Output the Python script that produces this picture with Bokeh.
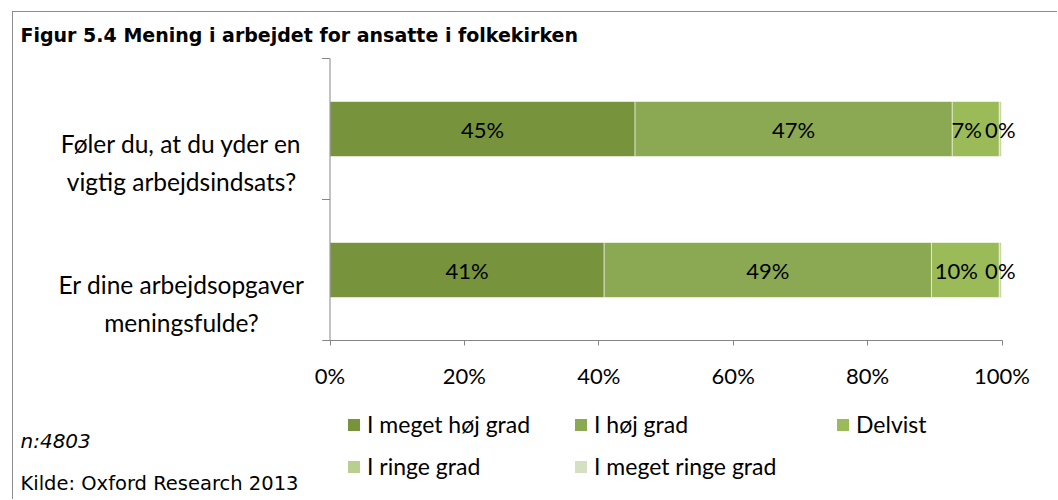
import math
from bokeh.plotting import figure
from bokeh.layouts import column
from bokeh.models import (Range1d, FixedTicker, PrintfTickFormatter, Label, Legend,
                          LegendItem, ColumnDataSource)
from bokeh.core.properties import value
from bokeh.embed import file_html
from bokeh.resources import INLINE

# ---------------- data ----------------
title = "Figur 5.4 Mening i arbejdet for ansatte i folkekirken"
questions = ["Føler du, at du yder en\nvigtig arbejdsindsats?",
             "Er dine arbejdsopgaver\nmeningsfulde?"]
categories = ["I meget høj grad", "I høj grad", "Delvist", "I ringe grad", "I meget ringe grad"]
very_high = [45.4, 40.8]
high = [47.2, 48.7]
partly = [7.0, 10.1]
low = [0.3, 0.3]
very_low = [0.1, 0.1]
x_ticks = [0, 20, 40, 60, 80, 100]
note_n = "n:4803"
source_note = "Kilde: Oxford Research 2013"

# ---------------- style / layout constants ----------------
colors = ["#77933C", "#8BA852", "#9BBB59", "#B9CF8F", "#D4E0C1"]
FONT = "Lato"
FONT2 = "DejaVu Sans"
AXIS_COLOR = "#868686"

series = [very_high, high, partly, low, very_low]
n = len(questions)
ys = [n - i - 0.5 for i in range(n)]

# main figure: canvas origin at page (13, 12)
WA, HA = 1044, 384
MB = 56                  # space below frame for x axis
AXIS_PX = 316.5          # canvas x of the 0% position
UNIT_PX = 6.72           # pixels per percent
ROW_PX = 141             # pixels per category row
frame_h = HA - MB

def dx(page_x):
    return (page_x - 13 - AXIS_PX) / UNIT_PX

def dy(page_y):
    return (frame_h - (page_y - 12)) / ROW_PX

data = {"y": ys}
for cat, vals in zip(categories, series):
    data[cat] = vals
source = ColumnDataSource(data)

p = figure(width=WA, height=HA, output_backend="svg", toolbar_location=None,
           x_range=Range1d(-AXIS_PX / UNIT_PX, (WA - AXIS_PX) / UNIT_PX),
           y_range=Range1d(0, frame_h / ROW_PX),
           min_border_left=0, min_border_right=0, min_border_top=0, min_border_bottom=MB)
p.outline_line_color = None
p.xgrid.visible = False
p.ygrid.visible = False
p.yaxis.visible = False

p.hbar_stack(categories, y="y", height=0.39, color=colors, source=source,
             line_color="white", line_alpha=0.55, line_width=1)

# data labels (first four segments)
label_offsets = [0, 0, -9, 0]
left = [0.0] * n
for j, vals in enumerate(series):
    centers = [left[i] + vals[i] / 2 for i in range(n)]
    if j < 4:
        p.text(x=centers, y=ys, text=[f"{round(v)}%" for v in vals],
               text_align="center", text_baseline="middle",
               text_font=value(FONT), text_font_size="22px", text_color="black",
               x_offset=label_offsets[j])
    left = [left[i] + vals[i] for i in range(n)]

# x axis
xa = p.xaxis[0]
xa.bounds = (-8 / UNIT_PX, 100)
xa.ticker = FixedTicker(ticks=x_ticks)
xa.formatter = PrintfTickFormatter(format="%d%%")
xa.major_tick_out = 5
xa.major_tick_in = 0
xa.minor_tick_line_color = None
xa.axis_line_color = AXIS_COLOR
xa.major_tick_line_color = AXIS_COLOR
xa.major_label_text_font = FONT
xa.major_label_text_font_size = "22px"
xa.major_label_text_color = "black"
xa.major_label_standoff = 16

# category axis: line at 0% and ticks on the row boundaries
p.segment(x0=[0], y0=[0], x1=[0], y1=[n], line_color=AXIS_COLOR, line_width=1)
p.ray(x=[0] * (n + 1), y=list(range(n + 1)), length=8, length_units="screen",
      angle=math.pi, line_color=AXIS_COLOR, line_width=1)

label_shift = 33.5 / ROW_PX
for qtext, y in zip(questions, ys):
    p.add_layout(Label(x=dx(181), y=y - label_shift, text=qtext,
                       text_align="center", text_baseline="middle", text_line_height=1.3,
                       text_font=FONT, text_font_size="24.5px", text_color="black"))

p.add_layout(Label(x=dx(20), y=dy(34), text=title, text_align="left", text_baseline="middle",
                   text_font=FONT2, text_font_style="bold", text_font_size="19px",
                   text_color="black"))

# ---------------- legend + notes strip (canvas origin at page (13, 396)) ----------------
WB, HB = 1044, 103
q = figure(width=WB, height=HB, output_backend="svg", toolbar_location=None,
           x_range=Range1d(0, WB), y_range=Range1d(HB, 0),
           min_border_left=0, min_border_right=0, min_border_top=0, min_border_bottom=0)
q.axis.visible = False
q.grid.visible = False
q.outline_line_color = None

# renderers that only feed the legend swatches (hidden in this strip)
legend_renderers = q.hbar_stack(categories, y="y", height=0.39, color=colors, source=source,
                                line_color=None, visible=False)

def make_legend(idx, loc):
    leg = Legend(items=[LegendItem(label=categories[i], renderers=[legend_renderers[i]]) for i in idx],
                 location=loc, orientation="vertical", glyph_width=15, glyph_height=15,
                 label_text_font=FONT, label_text_font_size="23px", label_text_color="black",
                 label_standoff=6, spacing=14, padding=0, margin=0, label_height=28,
                 border_line_alpha=0, background_fill_alpha=0,
                 inactive_fill_alpha=0)
    q.add_layout(leg, "center")

make_legend([0, 3], (333, 19))
make_legend([1, 4], (560, 19))
make_legend([2], (822, 61))

q.add_layout(Label(x=7, y=44, text=note_n, text_align="left", text_baseline="middle",
                   text_font=FONT2, text_font_style="italic", text_font_size="20px",
                   text_color="black"))
q.add_layout(Label(x=7, y=87, text=source_note, text_align="left", text_baseline="middle",
                   text_font=FONT2, text_font_size="19.5px", text_color="black"))

layout = column(p, q, spacing=0, margin=(11, 0, 0, 12),
                styles={"border-top": "1px solid #8c8c8c", "border-left": "1px solid #8c8c8c"})

open("out.html", "w").write(file_html(layout, INLINE))
